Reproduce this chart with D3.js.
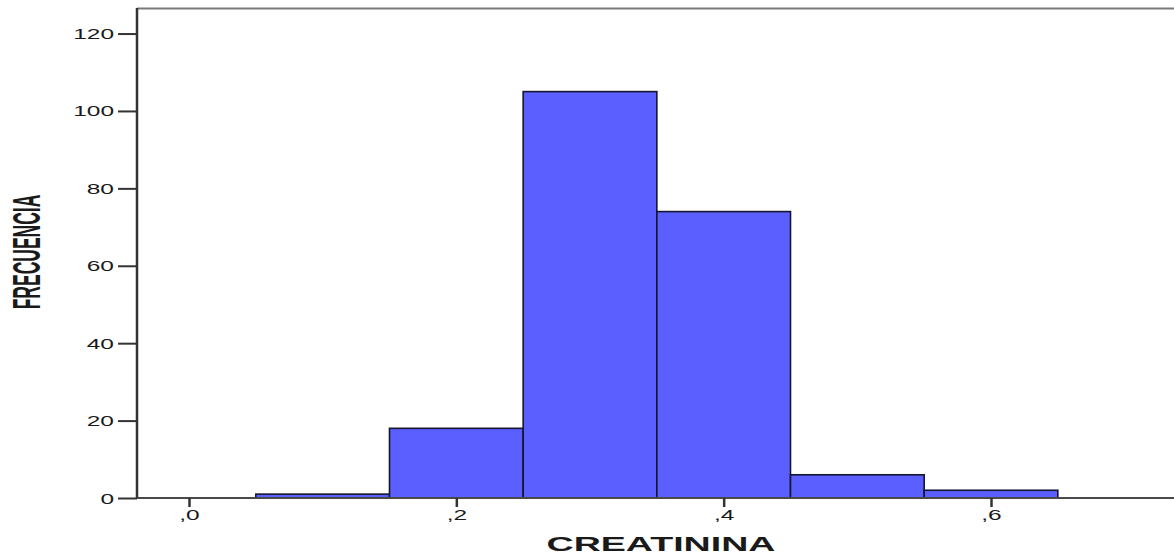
<!DOCTYPE html>
<html>
<head>
<meta charset="utf-8">
<script src="https://cdn.jsdelivr.net/npm/d3@7"></script>
<style>
  html, body { margin: 0; padding: 0; background: #fff; }
  svg { display: block; }
  text { font-family: "Liberation Sans", Arial, sans-serif; fill: #1a1a1a; }
</style>
</head>
<body>
<svg id="chart" width="1174" height="554"></svg>
<script>
// Histogram of CREATININA: bin starts (width 0.1) and frequencies
const binStarts = [0.05, 0.15, 0.25, 0.35, 0.45, 0.55];
const binWidth = 0.1;
const frequencies = [1, 18, 105, 74, 6, 2];

const yTicks = [0, 20, 40, 60, 80, 100, 120];
const yTickLabels = ["0", "20", "40", "60", "80", "100", "120"];
const xTicks = [0, 0.2, 0.4, 0.6];
const xTickLabels = [",0", ",2", ",4", ",6"];

const xTitle = "CREATININA";
const yTitle = "FRECUENCIA";

const svg = d3.select("#chart");
const W = 1174;

const plot = { left: 137, top: 8, bottom: 498 };

const x = d3.scaleLinear().domain([0, 0.6]).range([189, 991]);
const y = d3.scaleLinear().domain([0, 126.6]).range([plot.bottom, plot.top]);

// horizontal stretch applied to glyphs
const sx = 1.75;

// bars
svg.append("g").selectAll("rect")
  .data(binStarts.map((b, i) => ({ x0: b, x1: b + binWidth, n: frequencies[i] })))
  .join("rect")
  .attr("x", d => x(d.x0))
  .attr("y", d => y(d.n))
  .attr("width", d => x(d.x1) - x(d.x0))
  .attr("height", d => y(0) - y(d.n))
  .attr("fill", "#5b5fff")
  .attr("stroke", "#15152e")
  .attr("stroke-width", 1.6);

// frame: top border and bottom baseline
svg.append("line")
  .attr("x1", plot.left).attr("x2", W)
  .attr("y1", plot.top + 0.5).attr("y2", plot.top + 0.5)
  .attr("stroke", "#7a7a7a").attr("stroke-width", 2);
svg.append("line")
  .attr("x1", plot.left).attr("x2", W)
  .attr("y1", plot.bottom).attr("y2", plot.bottom)
  .attr("stroke", "#4a4a4a").attr("stroke-width", 2);

// y axis
const yAxis = d3.axisLeft(y)
  .tickValues(yTicks)
  .tickSize(19)
  .tickFormat((d, i) => yTickLabels[i]);
const gy = svg.append("g").attr("transform", `translate(${plot.left},0)`).call(yAxis);
gy.select(".domain")
  .attr("d", `M0,${plot.top}V${plot.bottom}`)
  .attr("stroke", "#333").attr("stroke-width", 2.5);
gy.selectAll(".tick line").attr("stroke", "#333").attr("stroke-width", 2);
gy.selectAll(".tick text")
  .attr("x", 0).attr("dy", "0.36em")
  .attr("transform", `translate(-23,0) scale(${sx},1)`)
  .style("font-size", "14px")
  .attr("fill", "#1a1a1a");

// x axis
const xAxis = d3.axisBottom(x)
  .tickValues(xTicks)
  .tickSize(9)
  .tickFormat((d, i) => xTickLabels[i]);
const gx = svg.append("g").attr("transform", `translate(0,${plot.bottom})`).call(xAxis);
gx.select(".domain").remove();
gx.selectAll(".tick line").attr("stroke", "#333").attr("stroke-width", 2.5);
gx.selectAll(".tick text")
  .attr("y", 0).attr("dy", "0")
  .attr("transform", `translate(0,22) scale(${sx},1)`)
  .style("font-size", "14px")
  .attr("fill", "#1a1a1a");

// axis titles
svg.append("text")
  .attr("transform", `translate(661,551) scale(1.88,1)`)
  .attr("text-anchor", "middle")
  .style("font-size", "20px")
  .style("font-weight", "bold")
  .text(xTitle);

svg.append("text")
  .attr("transform", `translate(40,252) scale(2.2,1) rotate(-90)`)
  .attr("text-anchor", "middle")
  .style("font-size", "17.5px")
  .style("font-weight", "bold")
  .text(yTitle);
</script>
</body>
</html>
